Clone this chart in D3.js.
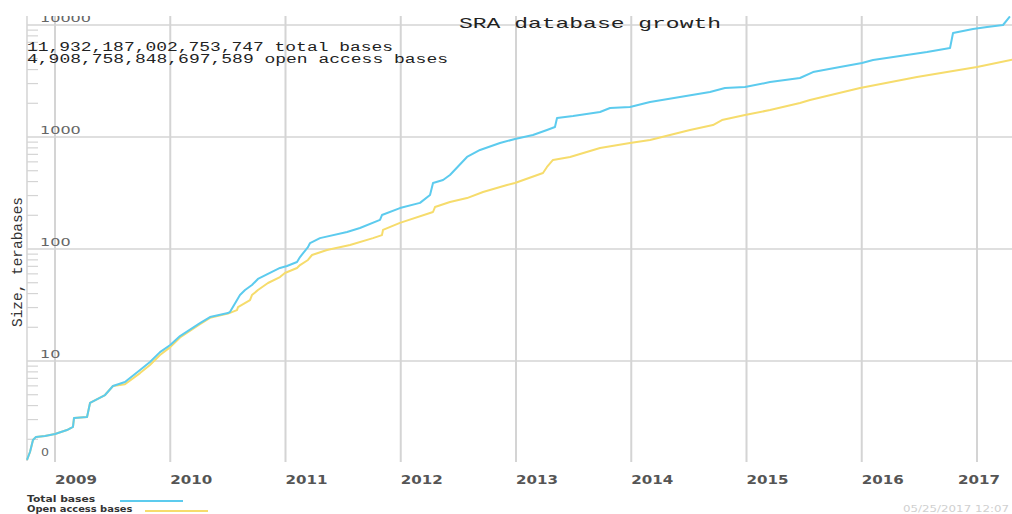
<!DOCTYPE html>
<html>
<head>
<meta charset="utf-8">
<script src="https://cdn.jsdelivr.net/npm/d3@7"></script>
<style>
  body { margin: 0; background: #fff; }
  svg { display: block; }
  .mono { font-family: "Courier New", "Liberation Mono", monospace; }
  .sans { font-family: "DejaVu Sans", Verdana, sans-serif; }
</style>
</head>
<body>
<div id="chart"></div>
<script>
const width = 1012;
const height = 514;

// total bases (terabases)
const totalYears = [
  2008.757, 2008.783, 2008.809, 2008.835, 2008.913, 2009.0, 2009.104, 2009.156, 2009.165, 2009.278,
  2009.304, 2009.434, 2009.503, 2009.607, 2009.738, 2009.824, 2009.911, 2010.0, 2010.085, 2010.258,
  2010.345, 2010.501, 2010.518, 2010.605, 2010.649, 2010.709, 2010.761, 2010.865, 2010.952, 2011.013,
  2011.1, 2011.126, 2011.195, 2011.213, 2011.299, 2011.534, 2011.646, 2011.82, 2011.837, 2011.993,
  2012.167, 2012.254, 2012.28, 2012.367, 2012.427, 2012.575, 2012.688, 2012.861, 2012.991, 2013.147,
  2013.269, 2013.338, 2013.356, 2013.495, 2013.729, 2013.816, 2013.989, 2014.163, 2014.423, 2014.683,
  2014.813, 2014.987, 2015.204, 2015.464, 2015.577, 2015.811, 2016.002, 2016.098, 2016.332, 2016.566,
  2016.766, 2016.792, 2016.965, 2017.087, 2017.226, 2017.286
];
const totalTB = [
  1.31, 1.54, 1.97, 2.1, 2.14, 2.23, 2.42, 2.58, 3.1, 3.16,
  4.22, 4.97, 5.98, 6.49, 8.31, 9.8, 12.0, 13.9, 16.7, 21.8,
  24.7, 26.8, 27.4, 38.8, 43.0, 47.7, 54.0, 61.1, 67.7, 70.5,
  76.5, 84.8, 104, 113, 125, 142, 154, 182, 201, 232,
  258, 304, 388, 413, 458, 663, 766, 884, 960, 1042,
  1155, 1228, 1479, 1540, 1672, 1816, 1852, 2054, 2276, 2522,
  2738, 2793, 3095, 3363, 3802, 4217, 4581, 4870, 5284, 5740,
  6236, 8488, 9209, 9600, 10000, 11932
];

// open access bases (terabases)
const openYears = [
  2008.757, 2008.783, 2008.809, 2008.835, 2008.913, 2009.0, 2009.104, 2009.156, 2009.165, 2009.278,
  2009.304, 2009.434, 2009.503, 2009.607, 2009.738, 2009.824, 2009.911, 2010.0, 2010.085, 2010.258,
  2010.345, 2010.501, 2010.579, 2010.588, 2010.692, 2010.709, 2010.761, 2010.848, 2010.952, 2010.995,
  2011.1, 2011.126, 2011.195, 2011.23, 2011.36, 2011.56, 2011.759, 2011.837, 2011.846, 2011.993,
  2012.28, 2012.297, 2012.427, 2012.575, 2012.714, 2012.922, 2012.991, 2013.234, 2013.269, 2013.321,
  2013.469, 2013.729, 2013.989, 2014.163, 2014.336, 2014.51, 2014.709, 2014.787, 2014.987, 2015.204,
  2015.464, 2015.551, 2015.985, 2016.479, 2017.0, 2017.304
];
const openTB = [
  1.31, 1.54, 1.97, 2.1, 2.14, 2.23, 2.42, 2.58, 3.1, 3.16,
  4.22, 4.97, 5.98, 6.2, 7.8, 9.2, 11.3, 13.3, 16.2, 21.3,
  24.3, 26.5, 28.5, 30.3, 35.0, 38.8, 43.0, 49.7, 56.2, 61.1,
  67.7, 71.9, 79.8, 88.4, 98.0, 108.6, 125, 133, 148, 171,
  214, 237, 263, 285, 323, 373, 388, 477, 540, 624,
  663, 798, 884, 940, 1042, 1155, 1279, 1418, 1571, 1742,
  2013, 2138, 2738, 3435, 4217, 4909
];

const yearTicks = [2009, 2010, 2011, 2012, 2013, 2014, 2015, 2016, 2017];
const yMajor = [10, 100, 1000, 10000];
const yMin = 1.28;
const xMin = 2008.757;

const seriesNames = ["Total bases", "Open access bases"];
const totalLine = "11,932,187,002,753,747 total bases";
const openLine = "4,908,758,848,697,589 open access bases";

const blue = "#5ccbee";
const yellow = "#f6dc6c";
const gridColor = "#d4d4d4";

const svg = d3.select("#chart").append("svg").attr("width", width).attr("height", height);

svg.append("defs").append("clipPath").attr("id", "crop")
  .append("rect").attr("x", 0).attr("y", 16).attr("width", width).attr("height", height - 16);

const root = svg.append("g").attr("clip-path", "url(#crop)");

const x = d3.scaleLinear().domain([2009, 2017]).range([55, 977]);
const y = d3.scaleLog().domain([yMin, 10000]).range([461, 25]);

const plotLeft = x(xMin);
const plotRight = width;
const plotTop = 16;
const plotBottom = y(yMin);

// vertical grid
root.append("g").selectAll("line").data(yearTicks).join("line")
  .attr("x1", d => x(d)).attr("x2", d => x(d))
  .attr("y1", plotTop).attr("y2", plotBottom + 1)
  .attr("stroke", gridColor).attr("stroke-width", 2);

// left axis line
root.append("line")
  .attr("x1", plotLeft).attr("x2", plotLeft).attr("y1", plotTop).attr("y2", plotBottom)
  .attr("stroke", gridColor).attr("stroke-width", 1.5);

// horizontal grid at decades
root.append("g").selectAll("line").data(yMajor).join("line")
  .attr("x1", plotLeft).attr("x2", plotRight)
  .attr("y1", d => y(d)).attr("y2", d => y(d))
  .attr("stroke", gridColor).attr("stroke-width", 1.5);

// minor ticks
const minor = [];
[1, 10, 100, 1000].forEach(dec => {
  for (let m = 2; m <= 9; m++) if (dec * m >= yMin) minor.push(dec * m);
});
root.append("g").selectAll("line").data(minor).join("line")
  .attr("x1", plotLeft).attr("x2", plotLeft + 11)
  .attr("y1", d => y(d)).attr("y2", d => y(d))
  .attr("stroke", gridColor).attr("stroke-width", 1.2);

// y labels
root.append("g").selectAll("text").data(yMajor).join("text")
  .attr("class", "sans")
  .attr("x", 40).attr("y", d => y(d) - 3)
  .attr("font-size", 10).attr("fill", "#666")
  .attr("textLength", d => String(d).length * 10.2)
  .attr("lengthAdjust", "spacingAndGlyphs")
  .text(d => d);
root.append("text").attr("class", "sans")
  .attr("x", 41).attr("y", y(yMin) - 5)
  .attr("font-size", 10).attr("fill", "#666")
  .attr("textLength", 8).attr("lengthAdjust", "spacingAndGlyphs")
  .text("0");

// x labels (last one pulled in so it stays on the page)
root.append("g").selectAll("text").data(yearTicks).join("text")
  .attr("class", "sans")
  .attr("x", d => Math.min(x(d), width - 54)).attr("y", 484)
  .attr("font-size", 12.5).attr("font-weight", "bold").attr("fill", "#555")
  .attr("textLength", 42).attr("lengthAdjust", "spacingAndGlyphs")
  .text(d => d);

// series
const line = d3.line().x(d => x(d[0])).y(d => y(d[1]));
const openData = d3.zip(openYears, openTB);
const totalData = d3.zip(totalYears, totalTB);

root.append("path").datum(openData)
  .attr("d", line).attr("fill", "none")
  .attr("stroke", yellow).attr("stroke-width", 2).attr("stroke-linejoin", "round");
root.append("path").datum(totalData)
  .attr("d", line).attr("fill", "none")
  .attr("stroke", blue).attr("stroke-width", 2).attr("stroke-linejoin", "round");

// title and totals
root.append("text").attr("class", "mono")
  .attr("x", 459).attr("y", 28)
  .attr("font-size", 15).attr("fill", "#222")
  .attr("textLength", 262).attr("lengthAdjust", "spacingAndGlyphs")
  .text("SRA database growth");

root.append("text").attr("class", "mono")
  .attr("x", 27).attr("y", 51)
  .attr("font-size", 12.5).attr("fill", "#222")
  .attr("textLength", 366).attr("lengthAdjust", "spacingAndGlyphs")
  .text(totalLine);
root.append("text").attr("class", "mono")
  .attr("x", 27).attr("y", 63)
  .attr("font-size", 12.5).attr("fill", "#222")
  .attr("textLength", 421).attr("lengthAdjust", "spacingAndGlyphs")
  .text(openLine);

// y title
root.append("text").attr("class", "mono")
  .attr("transform", "translate(22,262) rotate(-90)")
  .attr("text-anchor", "middle")
  .attr("font-size", 14).attr("fill", "#333")
  .attr("textLength", 130).attr("lengthAdjust", "spacingAndGlyphs")
  .text("Size, terabases");

// legend
const legend = root.append("g");
const legendColors = [blue, yellow];
const swatchX = [120, 145];
legend.selectAll("text").data(seriesNames).join("text")
  .attr("class", "sans")
  .attr("x", 27).attr("y", (d, i) => 502 + i * 10)
  .attr("font-size", 8.5).attr("font-weight", "bold").attr("fill", "#333")
  .attr("textLength", d => d.length * 6.2).attr("lengthAdjust", "spacingAndGlyphs")
  .text(d => d);
legend.selectAll("line").data(seriesNames).join("line")
  .attr("x1", (d, i) => swatchX[i]).attr("x2", (d, i) => swatchX[i] + 63)
  .attr("y1", (d, i) => 501 + i * 10).attr("y2", (d, i) => 501 + i * 10)
  .attr("stroke", (d, i) => legendColors[i]).attr("stroke-width", 2);

// timestamp
root.append("text").attr("class", "sans")
  .attr("x", 903).attr("y", 512)
  .attr("font-size", 8.5).attr("fill", "#d0d0d0")
  .attr("textLength", 106).attr("lengthAdjust", "spacingAndGlyphs")
  .text("05/25/2017 12:07");
</script>
</body>
</html>
